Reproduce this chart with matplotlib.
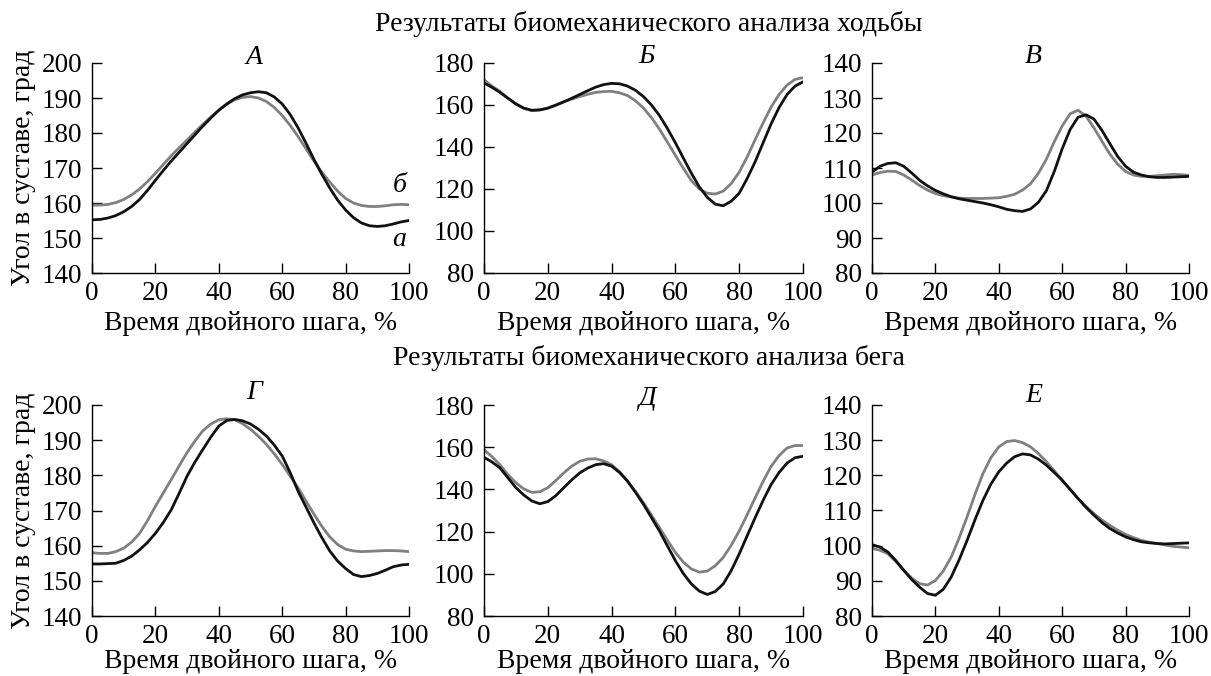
"""Joint angle curves over the gait cycle: walking (top) and running (bottom)"""

import numpy as np
import matplotlib
matplotlib.use("Agg")
import matplotlib.pyplot as plt

plt.rcParams['font.family'] = ['Liberation Serif', 'DejaVu Serif']

x = np.arange(0, 100.1, 2.5)

# walking
walk_a_black = [155.2, 155.3, 155.7, 156.4, 157.5, 159.0, 161.0, 163.6, 166.5, 169.3, 172.0,
                174.5, 177.0, 179.5, 182.0, 184.3, 186.5, 188.3, 189.8, 190.9, 191.5,
                191.8, 191.5, 190.3, 188.3, 185.3, 181.5, 177.1, 172.5, 168.2, 164.3,
                160.8, 158.0, 155.8, 154.3, 153.5, 153.3, 153.5, 154.0, 154.6, 155.0]
walk_a_gray = [159.4, 159.4, 159.6, 160.1, 161.0, 162.3, 164.0, 166.1, 168.5, 171.0, 173.5,
               175.8, 178.0, 180.3, 182.5, 184.6, 186.5, 188.2, 189.5, 190.2, 190.4,
               190.0, 189.0, 187.3, 185.0, 182.2, 179.0, 175.5, 172.0, 168.8, 166.0,
               163.4, 161.3, 160.0, 159.3, 159.0, 159.0, 159.2, 159.5, 159.6, 159.5]
walk_b_black = [170.5, 168.4, 166.0, 163.2, 160.5, 158.5, 157.5, 157.7, 158.5, 159.9, 161.5,
                163.2, 165.0, 166.8, 168.5, 169.7, 170.3, 170.1, 169.0, 167.0, 164.0,
                160.0, 155.0, 148.8, 142.0, 134.7, 127.5, 121.0, 116.0, 112.8, 112.0,
                114.2, 118.0, 125.0, 133.0, 142.0, 151.0, 158.8, 165.0, 169.0, 171.0]
walk_b_gray = [172.0, 169.0, 166.5, 163.3, 160.5, 158.4, 157.3, 157.6, 158.5, 160.0, 161.5,
               162.8, 164.0, 165.1, 166.0, 166.4, 166.5, 165.8, 164.5, 162.0, 158.5,
               154.0, 148.5, 142.3, 136.0, 129.8, 124.0, 120.0, 118.0, 117.6, 119.0,
               122.6, 128.0, 135.3, 143.5, 151.5, 159.0, 165.0, 169.5, 172.2, 173.0]
walk_c_black = [108.8, 110.5, 111.3, 111.5, 110.5, 108.6, 106.5, 104.9, 103.6, 102.6, 101.8,
                101.2, 100.8, 100.4, 100.0, 99.5, 98.9, 98.2, 97.8, 97.6, 98.3,
                100.2, 103.5, 109.0, 115.5, 121.0, 124.5, 125.2, 124.0, 120.8, 117.0,
                113.3, 110.5, 108.8, 108.0, 107.5, 107.3, 107.3, 107.4, 107.5, 107.6]
walk_c_gray = [108.0, 108.7, 109.1, 109.0, 108.0, 106.6, 105.0, 103.7, 102.7, 102.1, 101.7,
               101.4, 101.3, 101.3, 101.3, 101.4, 101.5, 101.9, 102.5, 103.7, 105.5,
               108.5, 112.5, 117.5, 122.0, 125.5, 126.5, 124.8, 121.5, 117.7, 114.0,
               111.1, 109.0, 108.0, 107.6, 107.6, 107.8, 108.0, 108.2, 108.1, 107.9]

# running
run_a_black = [154.8, 154.8, 154.9, 155.0, 155.8, 157.0, 158.8, 160.9, 163.5, 166.6, 170.2,
               174.9, 179.8, 183.8, 187.4, 190.9, 194.0, 195.6, 195.9, 195.5, 194.6,
               193.1, 191.2, 188.6, 185.5, 180.8, 175.5, 171.0, 166.5, 162.3, 158.5,
               155.6, 153.5, 151.8, 151.2, 151.5, 152.1, 153.0, 154.0, 154.5, 154.7]
run_a_gray = [158.0, 157.8, 157.8, 158.3, 159.3, 161.0, 163.5, 167.1, 171.2, 175.0, 178.8,
              182.7, 186.5, 189.8, 192.7, 194.6, 195.8, 196.1, 195.8, 194.7, 193.1,
              191.1, 188.8, 186.1, 183.1, 179.8, 176.5, 172.7, 169.0, 165.5, 162.5,
              160.3, 159.0, 158.5, 158.3, 158.4, 158.5, 158.6, 158.6, 158.5, 158.3]
run_b_black = [155.2, 153.0, 150.2, 145.5, 140.8, 137.3, 134.5, 133.2, 134.2, 137.0, 140.8,
               144.5, 147.8, 150.1, 151.7, 152.2, 151.0, 148.0, 143.9, 138.6, 132.9,
               126.6, 120.3, 113.2, 106.2, 100.1, 95.2, 91.8, 90.2, 91.6, 95.2,
               101.5, 109.4, 118.0, 126.6, 134.8, 142.3, 148.0, 152.5, 155.0, 155.7]
run_b_gray = [158.8, 155.5, 151.7, 147.0, 143.1, 140.2, 138.6, 138.9, 140.8, 144.2, 147.8,
              151.0, 153.3, 154.4, 154.5, 153.5, 151.7, 148.3, 143.9, 139.0, 133.7,
              127.8, 121.9, 115.9, 110.1, 105.5, 102.3, 100.8, 101.3, 103.8, 107.8,
              113.5, 120.3, 128.0, 136.0, 143.8, 150.9, 156.0, 159.6, 160.8, 160.8]
run_c_black = [100.3, 99.6, 98.2, 95.8, 93.0, 90.4, 88.2, 86.4, 85.9, 87.6, 91.1,
               96.0, 101.5, 107.4, 112.9, 117.5, 121.0, 123.5, 125.3, 126.1, 125.8,
               124.6, 122.9, 120.8, 118.6, 116.0, 113.4, 110.9, 108.7, 106.6, 104.9,
               103.6, 102.5, 101.7, 101.1, 100.8, 100.6, 100.5, 100.6, 100.7, 100.8]
run_c_gray = [99.2, 98.7, 97.7, 95.5, 93.0, 90.8, 89.2, 88.8, 90.1, 92.8, 96.8,
              102.2, 108.2, 114.6, 120.5, 125.0, 128.1, 129.6, 129.9, 129.3, 128.1,
              126.2, 123.9, 121.3, 118.6, 116.0, 113.4, 111.2, 109.1, 107.3, 105.8,
              104.4, 103.2, 102.3, 101.5, 101.0, 100.6, 100.2, 99.8, 99.6, 99.4]

letters = ['А', 'Б', 'В', 'Г', 'Д', 'Е']
letter_y = [1.025, 1.03, 1.03, 1.06, 1.03, 1.045]
ylims = [(140, 200, 10), (80, 180, 20), (80, 140, 10)]
series = [(walk_a_black, walk_a_gray), (walk_b_black, walk_b_gray), (walk_c_black, walk_c_gray),
          (run_a_black, run_a_gray), (run_b_black, run_b_gray), (run_c_black, run_c_gray)]

W, H = 1211, 676
fig = plt.figure(figsize=(W / 100, H / 100), dpi=100)

lefts = [92, 484, 872]
widths = [317, 319, 317]
tops = [63, 405]
heights = [210, 211]

for i in range(6):
    row, col = divmod(i, 3)
    ax = fig.add_axes([lefts[col] / W, 1 - (tops[row] + heights[row]) / H,
                       widths[col] / W, heights[row] / H])
    black, gray = series[i]
    ax.plot(x, gray, color='#808080', lw=2.0)
    ax.plot(x, black, color='#111111', lw=2.0)
    lo, hi, step = ylims[col]
    ax.set_xlim(0, 100)
    ax.set_ylim(lo, hi)
    ax.set_xticks(range(0, 101, 20))
    ax.set_yticks(range(lo, hi + 1, step))
    for s in ['top', 'right']:
        ax.spines[s].set_visible(False)
    for s in ['left', 'bottom']:
        ax.spines[s].set_linewidth(1.0)
    ax.tick_params(direction='in', length=7, width=1.0, pad=6, labelsize=19.5)
    ax.tick_params(axis='y', pad=7)
    ax.set_xlabel('Время двойного шага, %', fontsize=20, labelpad=3 if row == 0 else 0)
    if col == 0:
        ax.set_ylabel('Угол в суставе, град', fontsize=20, labelpad=4)
    ax.text(0.51, letter_y[i], letters[i], transform=ax.transAxes, ha='center', va='center',
            style='italic', fontsize=20)
    ax.patch.set_alpha(0)
    if i == 0:
        ax.text(97, 165, 'б', style='italic', ha='center', va='center', fontsize=20)
        ax.text(97, 149.5, 'а', style='italic', ha='center', va='center', fontsize=20)

fig.text(649 / W, 1 - 24 / H, 'Результаты биомеханического анализа ходьбы',
         ha='center', va='center', fontsize=20)
fig.text(649 / W, 1 - 358 / H, 'Результаты биомеханического анализа бега',
         ha='center', va='center', fontsize=20)

fig.savefig('out.png', dpi=100)
